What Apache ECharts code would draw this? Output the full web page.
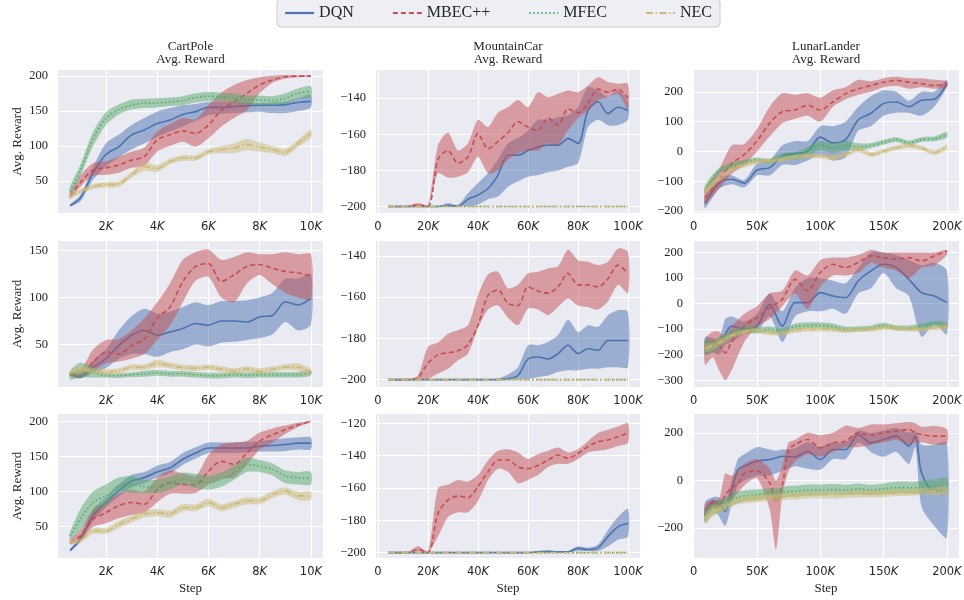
<!DOCTYPE html>
<html>
<head>
<meta charset="utf-8">
<script src="https://cdn.jsdelivr.net/npm/echarts@6/dist/echarts.min.js"></script>
<style>
html, body { margin: 0; background: #fff; }
#chart { width: 964px; height: 600px; }
</style>
</head>
<body>
<div id="chart"></div>
<script>
// ---- steps (x values) ----
var cartSteps = [600, 1000, 1500, 2000, 2500, 3000, 3500, 4000, 4500, 5000, 5500, 6000, 6500, 7000, 7500, 8000, 8500, 9000, 9500, 10000];
var mcSteps = [4000, 8000, 12000, 16000, 20000, 24000, 28000, 32000, 36000, 40000, 44000, 48000, 52000, 56000, 60000, 64000, 68000, 72000, 76000, 80000, 84000, 88000, 92000, 96000, 100000];
var llSteps1 = [9000, 20000, 30000, 40000, 50000, 60000, 70000, 80000, 90000, 100000, 110000, 120000, 130000, 140000, 150000, 160000, 170000, 180000, 190000, 200000];
var llSteps2 = [9000, 15000, 20000, 25000, 30000, 40000, 50000, 60000, 70000, 80000, 90000, 100000, 110000, 120000, 130000, 140000, 150000, 160000, 170000, 180000, 190000, 200000];
var llSteps3 = [9000, 15000, 20000, 25000, 30000, 35000, 40000, 50000, 60000, 65000, 70000, 75000, 80000, 90000, 100000, 110000, 120000, 130000, 140000, 150000, 160000, 170000, 175000, 180000, 190000, 200000];

// ---- row 1, CartPole ----
var cp1Dqn = [15, 26, 62, 88, 99, 116, 123, 132, 137, 145, 149, 155, 155, 156, 157.5, 158, 158, 159, 162, 163.6];
var cp1DqnLo = [14, 21, 52, 71, 84, 95, 104, 113, 121, 128, 136, 144, 146, 147, 148, 149, 147, 147, 150, 155];
var cp1DqnHi = [17, 30, 70, 104, 116, 130, 140, 149, 154, 158, 160, 163, 163, 163, 162, 161, 162, 163, 168, 173];
var cp1Mbec = [28.5, 48, 66, 69, 73, 80, 85, 109, 116, 121.6, 118, 130, 151, 163, 175, 187, 194, 198.6, 199.5, 199.5];
var cp1MbecLo = [25, 42, 58, 59, 62, 69, 72, 92, 100, 106, 99, 111, 128, 140, 151, 175, 190, 196, 198, 198.6];
var cp1MbecHi = [32, 58, 76, 78, 85, 92, 98, 121, 131, 140, 138, 158, 176, 187, 194, 198, 200, 201, 200.5, 200.5];
var cp1Mfec = [36, 65, 111, 139.5, 152, 158, 161, 161, 163, 164.6, 169, 171, 170, 168, 165.5, 165.5, 164.6, 168, 175, 178];
var cp1MfecLo = [30, 57, 100, 130, 145, 152, 154, 155, 157, 158, 162, 164, 164, 162, 159, 159, 158, 160, 167, 170];
var cp1MfecHi = [42, 73, 120, 148, 159, 166, 167, 168, 169, 171, 175, 177, 176, 175, 172, 172, 171, 175, 182, 185];
var cp1Nec = [28.5, 35.6, 42.7, 45, 46, 59, 71, 68, 78, 83, 83, 92, 95, 97, 102, 98.5, 95, 91, 104, 118];
var cp1NecLo = [25, 32, 39, 41, 42, 55, 65, 63, 74, 79, 79, 88, 90, 90, 94, 92, 90, 86, 99, 112];
var cp1NecHi = [32, 39, 46, 49, 50, 63, 77, 73, 82, 87, 87, 96, 100, 104, 110, 105, 100, 96, 109, 124];

// ---- row 1, MountainCar ----
var mc1Dqn = [-200, -200, -200, -200, -200, -200, -199.5, -199.8, -196, -193.6, -190, -182.6, -171.6, -171.6, -169, -167, -166, -166, -162.4, -165, -146.8, -142, -148.6, -145, -146.8];
var mc1DqnLo = [-200, -200, -200, -200, -200, -200, -200, -200, -200, -199, -196, -194.5, -189, -186, -183.5, -182.6, -181, -180, -178, -176, -156, -152, -155, -155, -152];
var mc1DqnHi = [-200, -200, -200, -200, -200, -200, -198, -199, -192.7, -187, -181.6, -174, -165, -162, -158, -152, -152, -150.5, -149.5, -145, -134, -135.8, -139.4, -135.8, -142];
var mc1Mbec = [-200, -200, -200, -199, -200, -174, -169, -176, -172.5, -159.6, -168, -164, -159, -153, -156, -158, -151, -155, -146, -148, -143, -135, -136.7, -135, -140];
var mc1MbecLo = [-200, -200, -200, -200, -200, -181.6, -184, -183.5, -181, -172.5, -181.6, -180, -174, -170.6, -169, -169, -165, -166, -157.8, -151, -146.8, -141.3, -139.4, -137.6, -145.9];
var mc1MbecHi = [-200, -200, -199.5, -198, -199, -166, -159, -169, -165, -152, -156, -148, -145, -141, -145, -136.7, -139.5, -137.6, -135.8, -136.7, -133, -128.4, -131, -132, -132];
var mcFlat = [-200, -200, -200, -200, -200, -200, -200, -200, -200, -200, -200, -200, -200, -200, -200, -200, -200, -200, -200, -200, -200, -200, -200, -200, -200];

// ---- row 1, LunarLander ----
var ll1Dqn = [-175, -105, -93, -106, -62, -54, -15, -7, 1, 48, 29, 40, 106, 128, 161, 166, 150, 172, 175, 227];
var ll1DqnLo = [-190, -125, -110, -120, -80, -80, -45, -45, -30, -10, -30, -20, 70, 85, 120, 130, 130, 120, 150, 215];
var ll1DqnHi = [-150, -88, -80, -95, -40, -30, 20, 35, 35, 85, 85, 100, 150, 185, 205, 200, 170, 200, 200, 240];
var ll1Mbec = [-155, -95, -40, -10, 35, 95, 133, 139, 155, 139, 166, 194, 210, 221, 232, 238, 232, 227, 221, 227];
var ll1MbecLo = [-175, -125, -75, -45, 0, 50, 95, 110, 120, 100, 150, 175, 190, 200, 215, 220, 210, 215, 210, 215];
var ll1MbecHi = [-125, -60, 20, 25, 75, 150, 195, 190, 195, 180, 205, 215, 240, 235, 245, 250, 245, 245, 240, 235];
var ll1Mfec = [-127, -65, -48, -37, -28, -32, -15, -15, 1, 23, 12, 20, 15, 20, 31, 40, 29, 40, 42, 56];
var ll1MfecLo = [-140, -75, -58, -45, -36, -40, -25, -28, -15, 5, -5, 5, 2, 12, 23, 32, 21, 32, 34, 46];
var ll1MfecHi = [-112, -55, -38, -28, -20, -24, -5, -2, 15, 35, 28, 35, 28, 28, 39, 48, 37, 48, 50, 66];
var ll1Nec = [-132, -93, -60, -46, -33, -32, -26, -19, -15, -15, -21, -10, 7, -10, 1, 12, 20, 12, -4, 15];
var ll1NecLo = [-142, -101, -68, -54, -41, -40, -34, -27, -23, -23, -30, -18, -2, -18, -7, 4, 12, 4, -12, 7];
var ll1NecHi = [-122, -85, -52, -38, -25, -24, -18, -11, -7, -7, -12, -2, 16, -2, 9, 20, 28, 20, 4, 23];

// ---- row 2, CartPole ----
var cp2Dqn = [19, 15.5, 26, 35, 49, 60, 65, 60, 63.5, 67, 72.4, 70.6, 75, 75, 74, 79.5, 81, 95.5, 92, 99];
var cp2DqnLo = [17, 14, 20, 25, 35, 40, 40, 37, 42, 45, 50, 48, 52, 53, 55, 57, 61, 74, 65, 71];
var cp2DqnHi = [21, 18, 33, 45, 65, 80, 88, 83, 85, 90, 95, 92, 96, 96, 97, 100, 105, 120, 120, 125];
var cp2Mbec = [19, 17, 31.5, 42, 40, 49, 56, 78, 90, 117, 133, 136, 117, 124, 133, 135, 131, 127.6, 126, 123];
var cp2MbecLo = [17, 15, 22, 30, 32, 35, 40, 55, 70, 95, 118, 122, 100, 95, 115, 124, 114, 105, 100, 98];
var cp2MbecHi = [21, 22, 45, 55, 56, 65, 78, 95, 115, 140, 148, 151, 140, 143, 148, 146, 146, 148, 146, 146];
var cp2Mfec = [19, 22.6, 21, 17, 17, 18, 19, 20, 19, 19, 18, 17, 17, 18, 17.5, 18, 18, 18, 18, 20];
var cp2MfecLo = [13, 15, 15, 15, 14.5, 15.5, 16, 17, 16, 16, 15, 14, 14, 15, 14.5, 15, 15, 15, 15, 17];
var cp2MfecHi = [22, 31, 26, 20, 19.5, 20.5, 22, 23, 22, 22, 21, 20, 20, 21, 20.5, 21, 21, 21, 21, 23];
var cp2Nec = [20, 24, 22, 21, 22, 26, 26, 30, 28, 25.5, 25, 26, 24, 22, 24, 22, 24, 26, 26, 21];
var cp2NecLo = [18, 21, 19, 18, 19, 23, 23, 26, 25, 22.5, 22, 23, 21, 19, 21, 19, 21, 23, 22, 18];
var cp2NecHi = [22, 27, 25, 24, 25, 29, 29, 34, 31, 28.5, 28, 29, 27, 25, 27, 25, 27, 29, 30, 24];

// ---- row 2, MountainCar ----
var mc2Dqn = [-200, -200, -200, -200, -200, -200, -200, -200, -200, -200, -200, -200, -199.6, -198, -190, -189, -190, -187.4, -183.3, -187.4, -185, -185.8, -181, -181, -181];
var mc2DqnLo = [-200, -200, -200, -200, -200, -200, -200, -200, -200, -200, -200, -200, -200, -200, -199.6, -198.7, -198, -196.3, -195.5, -195.5, -194.7, -194.7, -194, -194, -194];
var mc2DqnHi = [-200, -200, -200, -200, -200, -200, -200, -200, -200, -200, -200, -199.5, -197.5, -194, -183.3, -183.3, -181.7, -178.5, -171, -177, -173.6, -174.4, -168.7, -166.3, -167];
var mc2Mbec = [-200, -200, -200, -199, -192, -188, -187, -186, -183, -173.6, -159, -156.6, -163, -164, -155, -157, -158, -155, -148.4, -154, -154, -155, -151, -144.4, -148.4];
var mc2MbecLo = [-200, -200, -200, -200, -199.6, -197, -194.7, -190.6, -187.4, -175, -166, -164, -170, -173.6, -165.5, -166, -168.7, -164.7, -160.6, -164, -164.7, -166, -162, -154, -158];
var mc2MbecHi = [-200, -200, -200, -198, -184, -182, -177.7, -176, -173.6, -159, -149, -147.6, -155.7, -154, -148.4, -147.6, -146, -145, -137, -142, -142.8, -144.4, -142.8, -136.3, -138];

// ---- row 2, LunarLander ----
var ll2Dqn = [-165, -153, -166, -120, -88, -100, -88, -3, -88, 4, 4, 43, 30, 24, 89, 128, 154, 141, 95, 43, 30, 4];
var ll2DqnLo = [-200, -190, -200, -160, -150, -120, -110, -50, -150, -50, -30, -30, -20, -40, 40, 60, 120, 60, 30, -130, -80, -120];
var ll2DqnHi = [-130, -135, -140, -60, -50, -70, -40, 40, -30, 60, 100, 100, 90, 80, 140, 200, 200, 190, 170, 150, 160, 130];
var ll2Mbec = [-175, -150, -165, -192, -150, -88, -55, -16, 17, 95, 50, 122, 154, 141, 161, 187, 180, 174, 180, 167, 187, 206];
var ll2MbecLo = [-240, -210, -260, -300, -260, -150, -90, -60, -10, 40, -20, 65, 110, 110, 120, 160, 140, 130, 100, 140, 150, 190];
var ll2MbecHi = [-140, -110, -110, -130, -90, -40, -10, 40, 50, 130, 110, 170, 180, 180, 190, 210, 200, 200, 200, 200, 200, 210];
var ll2Mfec = [-170, -165, -150, -135, -120, -100, -105, -100, -110, -90, -85, -85, -90, -100, -98, -95, -85, -95, -95, -90, -80, -85];
var ll2MfecLo = [-200, -190, -170, -150, -135, -112, -117, -112, -122, -102, -97, -97, -102, -110, -108, -105, -95, -105, -105, -102, -92, -97];
var ll2MfecHi = [-140, -145, -130, -120, -105, -88, -93, -88, -98, -78, -73, -73, -78, -90, -88, -85, -75, -85, -85, -78, -68, -73];
var ll2Nec = [-175, -165, -155, -140, -125, -110, -105, -115, -115, -105, -100, -100, -102, -105, -102, -100, -95, -95, -100, -100, -95, -90];
var ll2NecLo = [-190, -180, -168, -152, -135, -120, -114, -124, -124, -114, -109, -109, -111, -114, -111, -109, -104, -104, -109, -109, -104, -99];
var ll2NecHi = [-160, -150, -142, -128, -115, -100, -96, -106, -106, -96, -91, -91, -93, -96, -93, -91, -86, -86, -91, -91, -86, -81];

// ---- row 3, CartPole ----
var cp3Dqn = [16, 32.5, 65.6, 84.6, 101, 115, 120, 128, 134, 146, 155, 162, 162, 162, 162, 164.6, 165.6, 167, 169, 169];
var cp3DqnLo = [15, 28, 58, 78, 93, 106, 112, 120, 126, 138, 147, 155, 155, 155, 156, 157, 157, 158, 160, 160];
var cp3DqnHi = [18, 36, 75, 92, 110, 124, 128, 137, 142, 155, 163, 170, 170, 170, 171, 172, 174, 176, 177, 177];
var cp3Mbec = [28, 37, 61, 70, 80, 84.6, 82, 103, 113, 110, 110, 129, 143, 138.7, 155, 172, 181, 188, 195, 200];
var cp3MbecLo = [25, 30, 50, 55, 62, 67, 70, 85, 97, 97, 98, 110, 118, 120, 138, 160, 170, 182, 192, 199];
var cp3MbecHi = [31, 45, 75, 85, 97, 103, 100, 120, 130, 126, 122, 152, 167, 170, 172, 184, 190, 194, 198, 201];
var cp3Mfec = [37, 61, 84.6, 94, 108, 110, 107, 107, 113, 117.5, 115, 113, 117.5, 127, 138.7, 136, 131.6, 122, 120, 119];
var cp3MfecLo = [32, 45, 70, 80, 100, 98, 98, 98, 103, 110, 105, 103, 107, 117, 128, 128, 123, 112, 110, 110];
var cp3MfecHi = [42, 75, 100, 110, 120, 122, 117, 117, 122, 127, 125, 123, 127, 137, 148, 145, 140, 130, 128, 128];
var cp3Nec = [28, 30, 44, 44, 53, 61, 68, 70, 68, 77, 77, 84.6, 77, 82, 87, 87, 96, 101, 94, 94];
var cp3NecLo = [25, 27, 40, 40, 48, 56, 63, 65, 63, 72, 72, 79, 72, 77, 82, 82, 91, 96, 88, 88];
var cp3NecHi = [31, 33, 48, 48, 58, 66, 73, 75, 73, 82, 82, 90, 82, 87, 92, 92, 101, 106, 100, 100];

// ---- row 3, MountainCar ----
var mc3Dqn = [-200, -200, -200, -200, -200, -200, -200, -200, -200, -200, -200, -200, -200, -200, -200, -199.5, -199.3, -199.5, -199.5, -197.3, -198, -197, -190, -184, -182];
var mc3DqnLo = [-200, -200, -200, -200, -200, -200, -200, -200, -200, -200, -200, -200, -200, -200, -200, -200, -200, -200, -200, -199, -199, -199, -196, -192, -190];
var mc3DqnHi = [-200, -200, -200, -200, -200, -200, -200, -200, -200, -200, -200, -200, -200, -200, -200, -199, -198.5, -199, -199, -196, -197, -195, -186, -178, -173];
var mc3Mbec = [-200, -200, -200, -198, -200, -175.7, -167.4, -165, -166, -159, -150, -142.7, -142.7, -147, -148, -146, -142.7, -139.6, -141.6, -138.6, -134.4, -131.3, -130.3, -128.2, -126];
var mc3MbecLo = [-200, -200, -200, -199, -200, -190, -178, -175, -175, -168, -155, -148, -150, -157, -155, -152, -147, -145, -145, -142, -138, -137, -136, -134, -132];
var mc3MbecHi = [-200, -200, -199.5, -196, -199, -160, -158, -155, -156, -152, -143, -137, -136, -138, -142, -139, -137, -135, -138, -136, -131, -126, -124, -122, -120];

// ---- row 3, LunarLander ----
var ll3Dqn = [-145, -87, -100, -129, -38, 46, 60, 81, 88, 95, 102, 100, 99, 123, 88, 130, 130, 193, 158, 172, 186, 144, 186, 32, -45, -38];
var ll3DqnLo = [-170, -110, -150, -190, -100, -20, 0, 20, 20, 30, 40, 50, 60, 50, 45, 90, 90, 160, 120, 100, 120, 70, 140, -110, -190, -240];
var ll3DqnHi = [-90, -70, -70, -90, 0, 90, 110, 140, 130, 125, 130, 130, 135, 160, 140, 160, 160, 210, 200, 210, 220, 200, 210, 150, 150, 160];
var ll3Mbec = [-125, -95, -105, -60, -30, -15, 30, 40, -10, -90, -20, 130, 150, 172, 137, 158, 165, 200, 190, 200, 207, 214, 200, 193, 186, 186];
var ll3MbecLo = [-150, -120, -120, -90, -80, -50, -20, 10, -120, -290, -60, 40, 80, 110, 100, 120, 140, 140, 150, 160, 170, 150, 160, 160, 150, 155];
var ll3MbecHi = [-100, -80, -80, 30, 20, 40, 70, 90, 50, 0, 60, 160, 170, 200, 190, 200, 230, 220, 235, 235, 240, 245, 240, 225, 230, 215];
var ll3Mfec = [-150, -120, -110, -95, -80, -70, -65, -60, -55, -55, -50, -45, -45, -40, -40, -38, -40, -35, -40, -35, -30, -30, -30, -28, -25, -22];
var ll3MfecLo = [-180, -145, -135, -120, -105, -95, -88, -83, -78, -78, -73, -68, -68, -63, -63, -60, -62, -58, -62, -58, -55, -55, -55, -55, -50, -48];
var ll3MfecHi = [-120, -95, -85, -70, -55, -45, -42, -37, -32, -32, -27, -22, -22, -17, -17, -15, -18, -12, -18, -12, -5, -5, -5, 0, 5, 12];
var ll3Nec = [-160, -130, -120, -110, -95, -85, -80, -75, -70, -70, -68, -65, -65, -60, -60, -60, -58, -55, -55, -55, -50, -50, -48, -45, -45, -40];
var ll3NecLo = [-180, -150, -138, -126, -111, -100, -95, -90, -85, -85, -83, -80, -80, -75, -75, -75, -73, -70, -70, -70, -65, -65, -63, -60, -62, -58];
var ll3NecHi = [-140, -110, -102, -94, -79, -70, -65, -60, -55, -55, -53, -50, -50, -45, -45, -45, -43, -40, -40, -40, -35, -35, -33, -30, -28, -22];

// ---- ticks ----
var cartTicks = [2000, 4000, 6000, 8000, 10000];
var mcTicks = [0, 20000, 40000, 60000, 80000, 100000];
var llTicks = [0, 50000, 100000, 150000, 200000];
var yTicks = [
    [50, 100, 150, 200], [-200, -180, -160, -140], [-200, -100, 0, 100, 200],
    [50, 100, 150], [-200, -180, -160, -140], [-300, -200, -100, 0, 100, 200],
    [50, 100, 150, 200], [-200, -180, -160, -140, -120], [-200, 0, 200]
];
var envNames = ['CartPole', 'MountainCar', 'LunarLander'];
var methodNames = ['DQN', 'MBEC++', 'MFEC', 'NEC'];

// ---- layout / style ----
var SERIF = '"Liberation Serif", "DejaVu Serif", serif';
var SANS = '"DejaVu Sans", sans-serif';
var TEXT = '#262626';
var methodColors = ['#4C72B0', '#C44E52', '#55A868', '#CCB974'];
var bandColors = ['rgba(76,114,176,0.5)', 'rgba(196,78,82,0.5)', 'rgba(85,168,104,0.5)', 'rgba(204,185,116,0.5)'];
var dashTypes = ['solid', [5, 3], [1.5, 2.5], [7, 2.5, 1.5, 2.5]];
var colLeft = [58, 376, 693];
var colWidth = [265, 264, 266];
var rowTop = [70, 241, 414];
var rowHeight = [143, 146, 144];
var xRanges = [[130, 10470], [-800, 104800], [-550, 209550]];
var yRanges = [
    [4.75, 208.25], [-203.6, -124.4], [-206, 273],
    [5, 160], [-203.6, -132.7], [-326, 245],
    [5.5, 210.5], [-203.3, -114.2], [-325, 279]
];

var panels = [
    {steps: cartSteps, runs: [[cp1Dqn, cp1DqnLo, cp1DqnHi], [cp1Mbec, cp1MbecLo, cp1MbecHi], [cp1Mfec, cp1MfecLo, cp1MfecHi], [cp1Nec, cp1NecLo, cp1NecHi]]},
    {steps: mcSteps, runs: [[mc1Dqn, mc1DqnLo, mc1DqnHi], [mc1Mbec, mc1MbecLo, mc1MbecHi], [mcFlat, mcFlat, mcFlat], [mcFlat, mcFlat, mcFlat]]},
    {steps: llSteps1, runs: [[ll1Dqn, ll1DqnLo, ll1DqnHi], [ll1Mbec, ll1MbecLo, ll1MbecHi], [ll1Mfec, ll1MfecLo, ll1MfecHi], [ll1Nec, ll1NecLo, ll1NecHi]]},
    {steps: cartSteps, runs: [[cp2Dqn, cp2DqnLo, cp2DqnHi], [cp2Mbec, cp2MbecLo, cp2MbecHi], [cp2Mfec, cp2MfecLo, cp2MfecHi], [cp2Nec, cp2NecLo, cp2NecHi]]},
    {steps: mcSteps, runs: [[mc2Dqn, mc2DqnLo, mc2DqnHi], [mc2Mbec, mc2MbecLo, mc2MbecHi], [mcFlat, mcFlat, mcFlat], [mcFlat, mcFlat, mcFlat]]},
    {steps: llSteps2, runs: [[ll2Dqn, ll2DqnLo, ll2DqnHi], [ll2Mbec, ll2MbecLo, ll2MbecHi], [ll2Mfec, ll2MfecLo, ll2MfecHi], [ll2Nec, ll2NecLo, ll2NecHi]]},
    {steps: cartSteps, runs: [[cp3Dqn, cp3DqnLo, cp3DqnHi], [cp3Mbec, cp3MbecLo, cp3MbecHi], [cp3Mfec, cp3MfecLo, cp3MfecHi], [cp3Nec, cp3NecLo, cp3NecHi]]},
    {steps: mcSteps, runs: [[mc3Dqn, mc3DqnLo, mc3DqnHi], [mc3Mbec, mc3MbecLo, mc3MbecHi], [mcFlat, mcFlat, mcFlat], [mcFlat, mcFlat, mcFlat]]},
    {steps: llSteps3, runs: [[ll3Dqn, ll3DqnLo, ll3DqnHi], [ll3Mbec, ll3MbecLo, ll3MbecHi], [ll3Mfec, ll3MfecLo, ll3MfecHi], [ll3Nec, ll3NecLo, ll3NecHi]]}
];
var xTickSets = [cartTicks, mcTicks, llTicks];

// polygon between lo and hi, drawn once per band through the axis scales
function makeBand(steps, lo, hi, color) {
    return function (params, api) {
        if (params.dataIndex !== 0) return null;
        var pts = [];
        for (var j = 0; j < steps.length; j++) pts.push(api.coord([steps[j], hi[j]]));
        for (var j = steps.length - 1; j >= 0; j--) pts.push(api.coord([steps[j], lo[j]]));
        return {type: 'polygon', shape: {points: pts, smooth: 0.25}, style: {fill: color}};
    };
}

function xLabel(v) {
    if (v === 0) return '0';
    return '{n|' + (v / 1000) + '}{k|K}';
}

function yLabel(v) {
    return String(v).replace('-', '\u2212');
}

var grids = [], xAxes = [], yAxes = [], series = [], titles = [];

for (var i = 0; i < panels.length; i++) {
    var row = Math.floor(i / 3), col = i % 3;
    grids.push({
        left: colLeft[col], top: rowTop[row], width: colWidth[col], height: rowHeight[row],
        show: true, backgroundColor: '#EAEAF2', borderWidth: 0,
        outerBoundsMode: 'none', containLabel: false
    });
    xAxes.push({
        type: 'value', gridIndex: i, min: xRanges[col][0], max: xRanges[col][1],
        axisLine: {show: false},
        axisTick: {show: false, customValues: xTickSets[col]},
        splitLine: {show: true, lineStyle: {color: '#ffffff', width: 1.2}},
        axisLabel: {
            customValues: xTickSets[col], formatter: xLabel, margin: 8,
            fontFamily: SANS, fontSize: 11.5, color: TEXT,
            rich: {
                n: {fontFamily: SANS, fontSize: 11.5, color: TEXT},
                k: {fontFamily: SANS, fontSize: 11.5, color: TEXT, fontStyle: 'italic'}
            }
        },
        name: row === 2 ? 'Step' : '', nameLocation: 'middle', nameGap: 24,
        nameTextStyle: {fontFamily: SERIF, fontSize: 13, color: TEXT}
    });
    yAxes.push({
        type: 'value', gridIndex: i, min: yRanges[i][0], max: yRanges[i][1],
        axisLine: {show: false},
        axisTick: {show: false, customValues: yTicks[i]},
        splitLine: {show: true, lineStyle: {color: '#ffffff', width: 1.2}},
        axisLabel: {
            customValues: yTicks[i], formatter: yLabel, margin: 10,
            fontFamily: SERIF, fontSize: 12.5, color: TEXT
        },
        name: col === 0 ? 'Avg. Reward' : '', nameLocation: 'middle', nameGap: 34, nameRotate: 90,
        nameTextStyle: {fontFamily: SERIF, fontSize: 13, color: TEXT}
    });

    var p = panels[i];
    for (var k = 0; k < 4; k++) {
        var run = p.runs[k];
        var bandData = [], lineData = [];
        for (var j = 0; j < p.steps.length; j++) {
            bandData.push([p.steps[j], run[1][j], run[2][j]]);
            lineData.push([p.steps[j], run[0][j]]);
        }
        series.push({
            type: 'custom', name: methodNames[k] + ' band',
            xAxisIndex: i, yAxisIndex: i, data: bandData,
            encode: {x: 0, y: [1, 2]},
            renderItem: makeBand(p.steps, run[1], run[2], bandColors[k]),
            clip: true, silent: true, z: 2 + 2 * k
        });
        series.push({
            type: 'line', name: methodNames[k],
            xAxisIndex: i, yAxisIndex: i, data: lineData,
            symbol: 'none', showSymbol: false, smooth: 0.3, clip: true, silent: true,
            lineStyle: {color: methodColors[k], width: 1.6, type: dashTypes[k]},
            itemStyle: {color: methodColors[k]},
            z: 3 + 2 * k
        });
    }
}

for (var c = 0; c < 3; c++) {
    titles.push({
        text: envNames[c] + '\nAvg. Reward',
        left: colLeft[c] + colWidth[c] / 2, top: 40, textAlign: 'center', padding: 0,
        textStyle: {fontFamily: SERIF, fontSize: 13, fontWeight: 'normal', color: TEXT, lineHeight: 13}
    });
}

var chart = echarts.init(document.getElementById('chart'), null, {renderer: 'canvas'});
chart.setOption({
    animation: false,
    backgroundColor: '#ffffff',
    title: titles,
    legend: {
        data: methodNames, left: 277, top: -2,
        itemWidth: 29, itemHeight: 10, itemGap: 38,
        padding: [7, 8, 6, 7],
        backgroundColor: 'rgba(234,234,242,0.8)', borderColor: '#cccccc', borderWidth: 1, borderRadius: 4,
        itemStyle: {opacity: 0, borderWidth: 0},
        lineStyle: {width: 2.2},
        textStyle: {fontFamily: SERIF, fontSize: 16, color: TEXT},
        selectedMode: false
    },
    grid: grids,
    xAxis: xAxes,
    yAxis: yAxes,
    series: series
});
</script>
</body>
</html>
